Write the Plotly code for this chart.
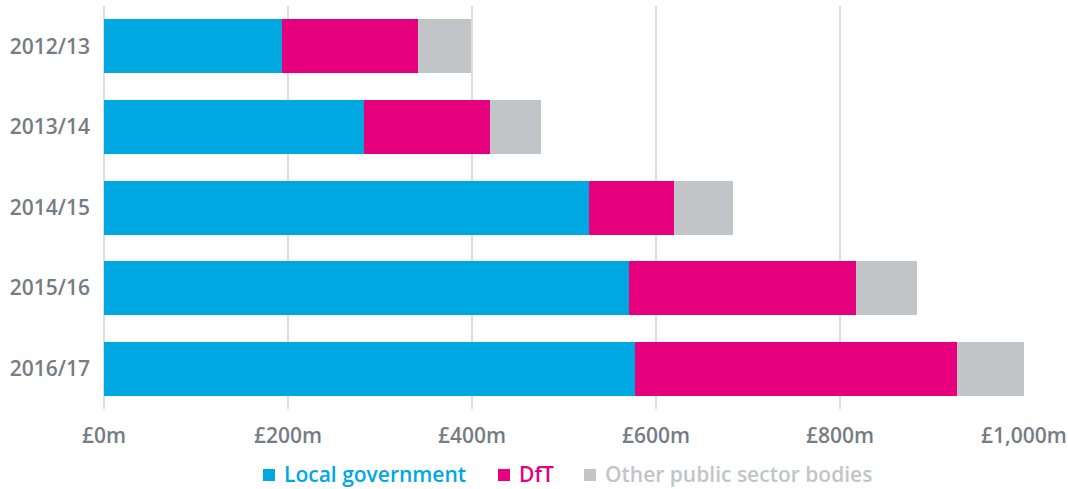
import plotly.graph_objects as go

years = ["2012/13", "2013/14", "2014/15", "2015/16", "2016/17"]
local_gov = [193, 283, 527, 571, 577]
dft = [148, 137, 93, 246, 350]
other = [58, 55, 64, 67, 73]

tick_vals = [0, 200, 400, 600, 800, 1000]
tick_text = ["£0m", "£200m", "£400m", "£600m", "£800m", "£1,000m"]

series = [
    ("Local government", local_gov, "#00a8e1"),
    ("DfT", dft, "#e6007e"),
    ("Other public sector bodies", other, "#c2c5c8"),
]

W, H = 1068, 489
ML, MR, MT, MB = 104, 44, 6, 80
PW, PH = W - ML - MR, H - MT - MB


def px_x(px):
    return (px - ML) / PW


def px_y(py):
    return (H - MB - py) / PH


fig = go.Figure()
for name, vals, col in series:
    fig.add_trace(go.Bar(
        y=years, x=vals, orientation="h", name=name,
        marker=dict(color=col, line=dict(width=0)),
        showlegend=False,
    ))

# custom legend (squares + coloured text)
legend_pos = [(263, 282), (498, 517), (584, 603)]
shapes = []
annotations = []
for (name, vals, col), (sq_x, tx_x) in zip(series, legend_pos):
    shapes.append(dict(type="rect", xref="paper", yref="paper",
                       x0=px_x(sq_x), x1=px_x(sq_x + 12),
                       y0=px_y(481), y1=px_y(469),
                       fillcolor=col, line=dict(width=0)))
    annotations.append(dict(xref="paper", yref="paper", x=px_x(tx_x), y=px_y(474),
                            xanchor="left", yanchor="middle", showarrow=False,
                            text=name,
                            font=dict(family="Open Sans", size=21, color=col, weight=600)))

fig.update_layout(
    barmode="stack",
    bargap=0.33,
    width=W, height=H,
    margin=dict(l=ML, r=MR, t=MT, b=MB),
    paper_bgcolor="white", plot_bgcolor="white",
    font=dict(family="Open Sans", size=21, color="#767c83", weight=600),
    showlegend=False,
    shapes=shapes,
    annotations=annotations,
    xaxis=dict(range=[0, 1000], tickvals=tick_vals, ticktext=tick_text,
               showgrid=True, gridcolor="#dddddd", gridwidth=1.5,
               zeroline=True, zerolinecolor="#dddddd", zerolinewidth=1.5,
               showline=False, ticks="", ticklabelstandoff=12,
               automargin=False, fixedrange=True),
    yaxis=dict(autorange="reversed", showgrid=False, showline=False, ticks="",
               ticklabelstandoff=13, automargin=False, fixedrange=True),
)

fig.write_html("out.html",
               config={"displayModeBar": False},
               post_script="document.body.style.margin='0px';document.body.style.overflow='hidden';")
